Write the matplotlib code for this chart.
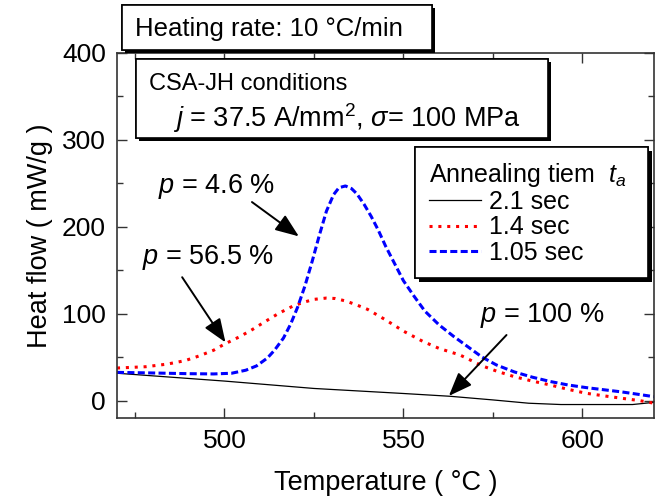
import matplotlib
matplotlib.use("Agg")
import matplotlib.pyplot as plt
import matplotlib.patheffects as pe
from matplotlib.patches import Rectangle
from matplotlib.ticker import MultipleLocator

plt.rcParams['font.family'] = ['Liberation Sans', 'DejaVu Sans']
plt.rcParams['mathtext.fontset'] = 'custom'
plt.rcParams['mathtext.rm'] = 'Liberation Sans'
plt.rcParams['mathtext.it'] = 'Liberation Sans:italic'
plt.rcParams['mathtext.bf'] = 'Liberation Sans:bold'

# data
temp_black = [470, 500, 525, 550, 563, 575, 585, 594, 614, 620]
flow_black = [31.5, 22.5, 14, 8.2, 5, 0.8, -3, -4.5, -4.5, -2]

temp_red = [470, 478, 484, 489, 493, 497, 500, 504, 507.5, 511, 515, 519, 522, 525,
            528.5, 531, 534, 537, 540, 545, 550, 555.5, 560, 565.8, 572, 576, 581,
            586, 591, 596, 601, 606, 611, 616, 620]
flow_red = [37.5, 39, 42, 46, 51.5, 58, 65, 73, 81, 90, 100, 108.5, 113, 116.5,
            118, 117.5, 114.5, 110, 105, 93, 80, 68, 60, 52.5, 40, 34, 27.5,
            22.5, 18, 13, 8.5, 5.5, 2.7, 0, -3]

temp_blue = [470, 480, 490, 497, 502, 506, 509, 512, 514, 516.5, 518.5, 520.5, 522.5,
             524.5, 526.5, 528.5, 530.5, 532, 533.8, 535.5, 537, 539, 541, 543, 545,
             547.5, 550, 553, 556, 560, 564, 568, 572, 576, 581, 586, 591, 596, 601,
             606, 611, 616, 620]
flow_blue = [32.5, 31.8, 31, 30.7, 31.5, 35, 40, 49, 58, 72, 88, 108, 132,
             160, 190, 218, 237, 245, 247, 244, 238, 226, 212, 196, 178,
             158, 138, 120, 103, 87, 74, 62, 50, 41, 33, 27, 22, 18, 15,
             12.5, 10, 7, 4.5]

labels = ['2.1 sec', '1.4 sec', '1.05 sec']

W, H = 665, 504
def fx(px):
    return px / W
def fy(py):
    return 1 - py / H

fig = plt.figure(figsize=(6.65, 5.04), dpi=100)
ax = fig.add_axes([fx(117), fy(418), 537 / W, 365 / H])

ax.plot(temp_black, flow_black, color='black', lw=0.9, label=labels[0])
ax.plot(temp_red, flow_red, color='red', lw=2.2, dashes=(1.0, 1.9), label=labels[1])
ax.plot(temp_blue, flow_blue, color='blue', lw=2.2, dashes=(2.3, 1.1), label=labels[2])

ax.set_xlim(470, 620)
ax.set_ylim(-20, 400)
ax.xaxis.set_major_locator(MultipleLocator(50))
ax.xaxis.set_minor_locator(MultipleLocator(25))
ax.yaxis.set_major_locator(MultipleLocator(100))
ax.yaxis.set_minor_locator(MultipleLocator(50))
ax.tick_params(which='both', direction='in', top=True, right=True, width=1.0,
               labelsize=19, pad=8, color='#333333')
ax.tick_params(which='major', length=7)
ax.tick_params(which='minor', length=4)
for s in ax.spines.values():
    s.set_linewidth(1.2)
    s.set_color('#333333')

ax.set_xlabel('Temperature ( °C )', fontsize=19.5)
ax.set_ylabel('Heat flow ( mW/g )', fontsize=19.5)
ax.xaxis.set_label_coords(0.5, (418 - 483) / 365)
ax.xaxis.label.set_va('center')
ax.yaxis.set_label_coords((40 - 117) / 537, 0.5)
ax.yaxis.label.set_va('center')

# annotations
arrow = dict(arrowstyle='-|>,head_length=0.9,head_width=0.35', color='black',
             lw=1.4, mutation_scale=16, shrinkA=0, shrinkB=0)
ax.annotate('', xy=(520.8, 189), xytext=(507.7, 228.5), arrowprops=arrow)
ax.annotate('', xy=(500.3, 67), xytext=(488.2, 142), arrowprops=arrow)
ax.annotate('', xy=(562.7, 5.4), xytext=(578.8, 75.5), arrowprops=arrow)
ax.text(497.9, 246, '$p$ = 4.6 %', fontsize=19.5, ha='center', va='center')
ax.text(495.4, 165, '$p$ = 56.5 %', fontsize=19.5, ha='center', va='center')
ax.text(588.8, 98.5, '$p$ = 100 %', fontsize=19.5, ha='center', va='center')

shadow = [pe.withSimplePatchShadow(offset=(2.5, -2.5), shadow_rgbFace='black', alpha=1.0),
          pe.Normal()]

leg = ax.legend(title='Annealing tiem  $t_a$', fontsize=18, title_fontsize=18,
                loc='upper left', bbox_to_anchor=(0.555, 0.0, 0.434, 0.742),
                mode='expand', borderaxespad=0, fancybox=False, framealpha=1,
                edgecolor='black', handlelength=2.1, handletextpad=0.3,
                labelspacing=0.05, borderpad=0.55, alignment='left')
leg.get_frame().set_linewidth(1.2)
leg.get_frame().set_path_effects(shadow)

# text boxes
box1 = Rectangle((fx(122), fy(50)), 310 / W, 45 / H, transform=fig.transFigure,
                 facecolor='white', edgecolor='black', lw=1.2, zorder=5)
box1.set_path_effects(shadow)
fig.add_artist(box1)
fig.text(fx(135), fy(36), 'Heating rate: 10 °C/min', fontsize=18.5, va='baseline', zorder=6)

box2 = Rectangle((fx(135.7), fy(137.7)), 412.3 / W, 78.7 / H, transform=fig.transFigure,
                 facecolor='white', edgecolor='black', lw=1.2, zorder=5)
box2.set_path_effects(shadow)
fig.add_artist(box2)
fig.text(fx(149), fy(90), 'CSA-JH conditions', fontsize=17, va='baseline', zorder=6)
fig.text(fx(173), fy(127), r'$j$ = 37.5 A/mm$^2$, $\sigma$= 100 MPa', fontsize=19.5,
         va='baseline', zorder=6)

fig.savefig('out.png', dpi=100)
